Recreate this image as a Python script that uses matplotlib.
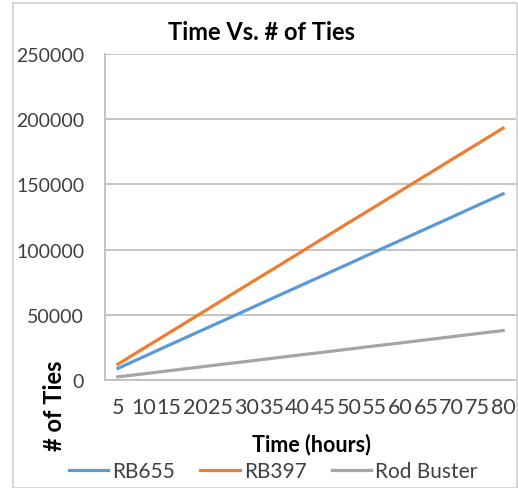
import matplotlib
matplotlib.use("Agg")
import matplotlib.pyplot as plt
from matplotlib.patches import Rectangle

# -----------------------------
# Data
# -----------------------------
hours = [5, 10, 15, 20, 25, 30, 35, 40, 45, 50, 55, 60, 65, 70, 75, 80]
rb655 = [8900, 17800, 26800, 35700, 44600, 53500, 62500, 71400,
         80300, 89200, 98200, 107100, 116000, 124900, 133900, 142800]
rb397 = [12100, 24200, 36200, 48300, 60400, 72500, 84500, 96600,
         108700, 120800, 132800, 144900, 157000, 169100, 181100, 193200]
rod_buster = [2400, 4700, 7100, 9500, 11900, 14200, 16600, 19000,
              21300, 23700, 26100, 28400, 30800, 33200, 35600, 37900]
y_ticks = [0, 50000, 100000, 150000, 200000, 250000]

plt.rcParams['font.family'] = ['Lato', 'DejaVu Sans']

W, H = 518, 489
fig = plt.figure(figsize=(W / 100, H / 100), dpi=100)

# chart border like an Excel chart object
fig.patches.append(Rectangle((13 / W, 0), (W - 14) / W, 1 - 4 / H,
                             transform=fig.transFigure, fill=False,
                             edgecolor="#d0d0d0", linewidth=1.2))

ax = fig.add_axes([105 / W, 1 - 381 / H, 411 / W, (381 - 55) / H])

# -----------------------------
# Plot lines on category positions
# -----------------------------
pos = list(range(len(hours)))
ax.plot(pos, rb655, color="#5b9bd5", linewidth=2.3, label="RB655")
ax.plot(pos, rb397, color="#ed7d31", linewidth=2.3, label="RB397")
ax.plot(pos, rod_buster, color="#a5a5a5", linewidth=2.3, label="Rod Buster")

ax.set_xlim(-0.5, len(hours) - 0.5)
ax.set_ylim(0, 250000)
ax.set_yticks(y_ticks)
ax.set_yticklabels([str(v) for v in y_ticks])
ax.set_xticks(pos)
ax.set_xticklabels([str(h) for h in hours])
ax.tick_params(axis="y", length=0, labelsize=14, colors="#404040", pad=15)
ax.tick_params(axis="x", length=0, labelsize=15.5, colors="#404040", pad=12)
ax.grid(axis="y", color="#bfbfbf", linewidth=1.3)
ax.set_axisbelow(True)
for side in ["top", "right"]:
    ax.spines[side].set_visible(False)
for side in ["left", "bottom"]:
    ax.spines[side].set_color("#bfbfbf")
    ax.spines[side].set_linewidth(1.3)

# -----------------------------
# Titles and labels
# -----------------------------
fig.text(262 / W, 1 - 33 / H, "Time Vs. # of Ties", ha="center", va="center",
         fontsize=17, fontweight="bold", color="black")
fig.text(311 / W, 1 - 445 / H, "Time (hours)", ha="center", va="center",
         fontsize=15.5, fontweight="bold", color="black")
fig.text(54 / W, 1 - 406 / H, "# of Ties", ha="center", va="center",
         rotation=90, fontsize=17, fontweight="bold", color="black")

fig.legend(loc="center", bbox_to_anchor=(273 / W, 1 - 472 / H), ncol=3,
           frameon=False, fontsize=15, handlelength=1.9, handletextpad=0.2,
           columnspacing=1.2, labelcolor="#404040")

plt.savefig("out.png", dpi=100)
plt.close()
